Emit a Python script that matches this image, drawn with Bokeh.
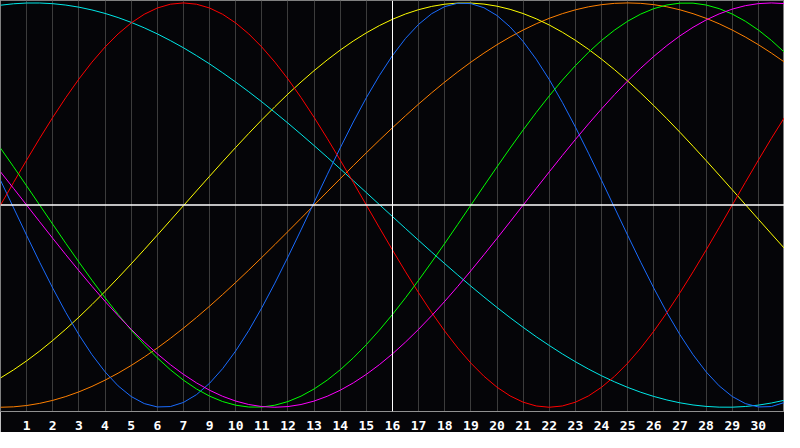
from bokeh.plotting import figure
from bokeh.models import Range1d, FixedTicker, Span
from bokeh.embed import file_html
from bokeh.resources import INLINE

# x positions (day columns), half-day positions and tick labels
day_pos = list(range(31))
half_pos = [k + 0.5 for k in range(30)]
tick_pos = list(range(1, 30))
tick_labels = ["1", "2", "3", "4", "5", "6", "7", "9", "10", "11", "12", "13", "14", "15",
               "16", "17", "18", "19", "20", "21", "22", "23", "24", "25", "26", "27", "28",
               "29", "30"]
today_pos = 15

# cycle values read at each day column (-1 .. 1)
red_day = [0.0, 0.2225, 0.4339, 0.6235, 0.7818, 0.9010, 0.9749, 1.0, 0.9749, 0.9010, 0.7818,
           0.6235, 0.4339, 0.2225, 0.0, -0.2225, -0.4339, -0.6235, -0.7818, -0.9010, -0.9749,
           -1.0, -0.9749, -0.9010, -0.7818, -0.6235, -0.4339, -0.2225, 0.0, 0.2225, 0.4339]
red_half = [0.1120, 0.3303, 0.5320, 0.7071, 0.8467, 0.9439, 0.9937, 0.9937, 0.9439, 0.8467,
            0.7071, 0.5320, 0.3303, 0.1120, -0.1120, -0.3303, -0.5320, -0.7071, -0.8467,
            -0.9439, -0.9937, -0.9937, -0.9439, -0.8467, -0.7071, -0.5320, -0.3303, -0.1120,
            0.1120, 0.3303]

orange_day = [-1.0, -0.9914, -0.9659, -0.9239, -0.8660, -0.7934, -0.7071, -0.6088, -0.5,
              -0.3827, -0.2588, -0.1305, 0.0, 0.1305, 0.2588, 0.3827, 0.5, 0.6088, 0.7071,
              0.7934, 0.8660, 0.9239, 0.9659, 0.9914, 1.0, 0.9914, 0.9659, 0.9239, 0.8660,
              0.7934, 0.7071]
orange_half = [-0.9979, -0.9808, -0.9469, -0.8969, -0.8315, -0.7518, -0.6593, -0.5556,
               -0.4423, -0.3214, -0.1951, -0.0654, 0.0654, 0.1951, 0.3214, 0.4423, 0.5556,
               0.6593, 0.7518, 0.8315, 0.8969, 0.9469, 0.9808, 0.9979, 0.9979, 0.9808, 0.9469,
               0.8969, 0.8315, 0.7518]

blue_day = [0.1226, -0.1497, -0.4110, -0.6413, -0.8248, -0.9468, -0.9985, -0.9762, -0.8814,
            -0.7215, -0.5078, -0.2566, 0.0136, 0.2830, 0.5313, 0.7399, 0.8941, 0.9818, 0.9966,
            0.9376, 0.8090, 0.6205, 0.3859, 0.1226, -0.1497, -0.4110, -0.6413, -0.8248,
            -0.9468, -0.9985, -0.9762]
blue_half = [-0.0136, -0.2830, -0.5313, -0.7399, -0.8941, -0.9818, -0.9966, -0.9376, -0.8090,
             -0.6205, -0.3859, -0.1226, 0.1497, 0.4110, 0.6413, 0.8248, 0.9468, 0.9985,
             0.9762, 0.8815, 0.7215, 0.5078, 0.2566, -0.0136, -0.2829, -0.5313, -0.7399,
             -0.8941, -0.9818, -0.9966]

yellow_day = [-0.8551, -0.7705, -0.6694, -0.5543, -0.4271, -0.2909, -0.1485, -0.0030, 0.1426,
              0.2853, 0.4218, 0.5494, 0.6652, 0.7668, 0.8521, 0.9192, 0.9667, 0.9937, 0.9994,
              0.9839, 0.9474, 0.8907, 0.8150, 0.7219, 0.6135, 0.4920, 0.3600, 0.2204, 0.0759,
              -0.0701, -0.2146]
yellow_half = [-0.8150, -0.7219, -0.6135, -0.4920, -0.3600, -0.2204, -0.0759, 0.0701, 0.2146,
               0.3545, 0.4869, 0.6088, 0.7177, 0.8116, 0.8880, 0.9455, 0.9828, 0.9992, 0.9943,
               0.9682, 0.9215, 0.8551, 0.7705, 0.6694, 0.5543, 0.4271, 0.2909, 0.1485, 0.0030,
               -0.1426]

green_day = [0.2817, 0.0950, -0.0950, -0.2817, -0.4582, -0.6182, -0.7557, -0.8660, -0.9450,
             -0.9898, -0.9989, -0.9718, -0.9096, -0.8146, -0.6901, -0.5406, -0.3717, -0.1893,
             0.0, 0.1893, 0.3717, 0.5406, 0.6901, 0.8146, 0.9096, 0.9718, 0.9989, 0.9898,
             0.9450, 0.8660, 0.7557]
green_half = [0.1893, 0.0, -0.1893, -0.3717, -0.5406, -0.6901, -0.8146, -0.9096, -0.9718,
              -0.9989, -0.9898, -0.9450, -0.8660, -0.7557, -0.6182, -0.4582, -0.2817, -0.0950,
              0.0950, 0.2817, 0.4582, 0.6182, 0.7557, 0.8660, 0.9450, 0.9898, 0.9989, 0.9718,
              0.9096, 0.8146]

magenta_day = [0.1646, 0.0, -0.1646, -0.3247, -0.4759, -0.6142, -0.7357, -0.8372, -0.9158,
               -0.9694, -0.9966, -0.9966, -0.9694, -0.9158, -0.8372, -0.7357, -0.6142,
               -0.4759, -0.3247, -0.1646, 0.0, 0.1646, 0.3247, 0.4759, 0.6142, 0.7357, 0.8372,
               0.9158, 0.9694, 0.9966, 0.9966]
magenta_half = [0.0826, -0.0826, -0.2455, -0.4017, -0.5469, -0.6773, -0.7891, -0.8795,
                -0.9458, -0.9864, -1.0, -0.9864, -0.9458, -0.8795, -0.7891, -0.6773, -0.5469,
                -0.4017, -0.2455, -0.0826, 0.0826, 0.2455, 0.4017, 0.5469, 0.6773, 0.7891,
                0.8795, 0.9458, 0.9864, 1.0]

cyan_day = [0.9887, 0.9995, 0.9963, 0.9790, 0.9481, 0.9038, 0.8469, 0.7782, 0.6984, 0.6087,
            0.5107, 0.4053, 0.2943, 0.1791, 0.0616, -0.0569, -0.1745, -0.2898, -0.4010,
            -0.5065, -0.6049, -0.6946, -0.7749, -0.8443, -0.9018, -0.9466, -0.9781, -0.9958,
            -0.9996, -0.9894, -0.9653]
cyan_half = [0.9958, 0.9996, 0.9894, 0.9652, 0.9276, 0.8769, 0.8138, 0.7393, 0.6545, 0.5606,
             0.4586, 0.3503, 0.2372, 0.1206, 0.0023, -0.1160, -0.2326, -0.3460, -0.4545,
             -0.5568, -0.6512, -0.7362, -0.8111, -0.8746, -0.9258, -0.9640, -0.9887, -0.9995,
             -0.9963, -0.9790]

series = [
    (orange_day, orange_half, "#ff8000"),
    (yellow_day, yellow_half, "#ffff00"),
    (cyan_day, cyan_half, "#00e8e8"),
    (blue_day, blue_half, "#1a6cff"),
    (red_day, red_half, "#ff0000"),
    (green_day, green_half, "#00ff00"),
    (magenta_day, magenta_half, "#ff00ff"),
]


def merged(day_vals, half_vals):
    xs, ys = [], []
    for i in range(len(day_vals)):
        xs.append(day_pos[i])
        ys.append(day_vals[i])
        if i < len(half_vals):
            xs.append(half_pos[i])
            ys.append(half_vals[i])
    return xs, ys


bg = "#050508"
p = figure(width=784, height=432, output_backend="svg", toolbar_location=None,
           x_range=Range1d(0, 30), y_range=Range1d(-1.021, 1.012),
           y_axis_location=None, min_border_left=0, min_border_right=0,
           min_border_top=0, min_border_bottom=0,
           background_fill_color=bg, border_fill_color=bg)
p.outline_line_color = "#808080"
p.outline_line_width = 1

p.xaxis.ticker = FixedTicker(ticks=tick_pos)
p.xaxis.major_label_overrides = {t: l for t, l in zip(tick_pos, tick_labels)}
p.xaxis.major_tick_line_color = None
p.xaxis.minor_tick_line_color = None
p.xaxis.axis_line_color = "#909090"
p.xaxis.major_label_text_color = "#ffffff"
p.xaxis.major_label_text_font = "DejaVu Sans Mono"
p.xaxis.major_label_text_font_style = "bold"
p.xaxis.major_label_text_font_size = "13px"
p.xaxis.major_label_standoff = 3

p.xgrid.grid_line_color = "#3c3c3c"
p.xgrid.grid_line_width = 1
p.ygrid.grid_line_color = None

p.add_layout(Span(location=0, dimension="width", line_color="#ffffff", line_width=1.5))
p.add_layout(Span(location=today_pos, dimension="height", line_color="#ffffff", line_width=1))

for d_vals, h_vals, col in series:
    xs, ys = merged(d_vals, h_vals)
    p.line(xs, ys, line_color=col, line_width=1)

open("out.html", "w").write(file_html(p, INLINE))
